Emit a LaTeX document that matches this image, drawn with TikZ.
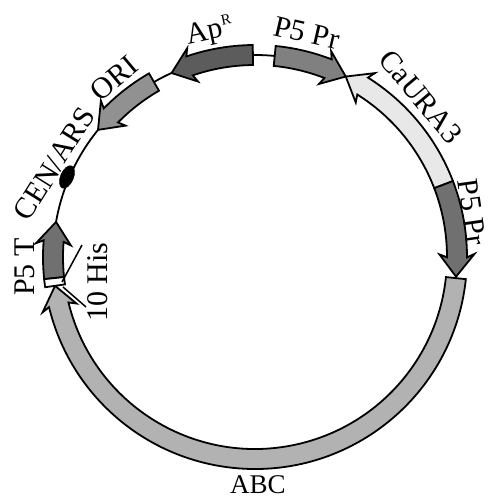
\documentclass[tikz,border=0pt]{standalone}
\usepackage{fontspec}
\setmainfont{Liberation Serif}
\usetikzlibrary{shapes.geometric}
\newcommand\bandarrow[3]{%
  \pgfmathsetmacro\myhb{#2-5.5*sign(#2-#1)}%
  \pgfmathsetmacro\mybk{#2-6.4*sign(#2-#1)}%
  \filldraw[band,fill=#3,shift={(C)}] (#1:212) arc[start angle=#1,end angle=\myhb,radius=212]
    -- (\mybk:219.5) -- (#2:202) -- (\mybk:184.5) -- (\myhb:192)
    arc[start angle=\myhb,end angle=#1,radius=192] -- cycle;
}
\begin{document}
\begin{tikzpicture}[x=1pt,y=1pt,
  band/.style={draw=black,line width=1.8pt,line join=miter},
  lbl/.style={inner sep=0pt,font=\fontsize{30}{34}\selectfont}]
\useasboundingbox (0,0) rectangle (489,499);
\coordinate (C) at (255,242);
% backbone
\draw[line width=1.8pt] (C) circle[radius=202];
% features
\bandarrow{90.6}{114.4}{black!64}
\bandarrow{84.4}{63.3}{black!50}
\bandarrow{21}{63.3}{black!9}
\bandarrow{21}{-5.6}{black!56}
\bandarrow{354}{188.2}{black!30}
\bandarrow{186}{170}{black!56}
\bandarrow{120}{141}{black!43}
\filldraw[band,fill=white,shift={(C)}] (186:212) arc[start angle=186,end angle=188.2,radius=212]
  -- (188.2:192) arc[start angle=188.2,end angle=186,radius=192] -- cycle;
% CEN/ARS element
\node[draw,fill=black,ellipse,minimum width=13pt,minimum height=24pt,inner sep=0pt,rotate=-23] (cen) at (67,322) {};
% 10 His leader lines
\coordinate (h1a) at (62,217); \coordinate (h1b) at (82,254);
\coordinate (h2a) at (63,212); \coordinate (h2b) at (86,192);
\draw[line width=1.5pt] (h1a) -- (h1b);
\draw[line width=1.5pt] (h2a) -- (h2b);
% labels
\node[lbl,rotate=12] (ap) at (210,467) {Ap\raisebox{12pt}{\fontsize{15}{15}\selectfont R}};
\node[lbl,rotate=-13] (p5top) at (307,466) {P5 Pr};
\node[lbl,rotate=-50] (ura) at (421,402) {CaURA3};
\node[lbl,rotate=-82] (p5r) at (472,287) {P5 Pr};
\node[lbl,font=\fontsize{27}{30}\selectfont] (abc) at (258,14) {ABC};
\node[lbl,rotate=40] (ori) at (114,421) {ORI};
\node[lbl,rotate=58] (cenl) at (54,335) {CEN/ARS};
\node[lbl,rotate=90] (p5t) at (25,232) {P5 T};
\node[lbl,rotate=90] (his) at (98,217) {10 His};
\end{tikzpicture}
\end{document}
